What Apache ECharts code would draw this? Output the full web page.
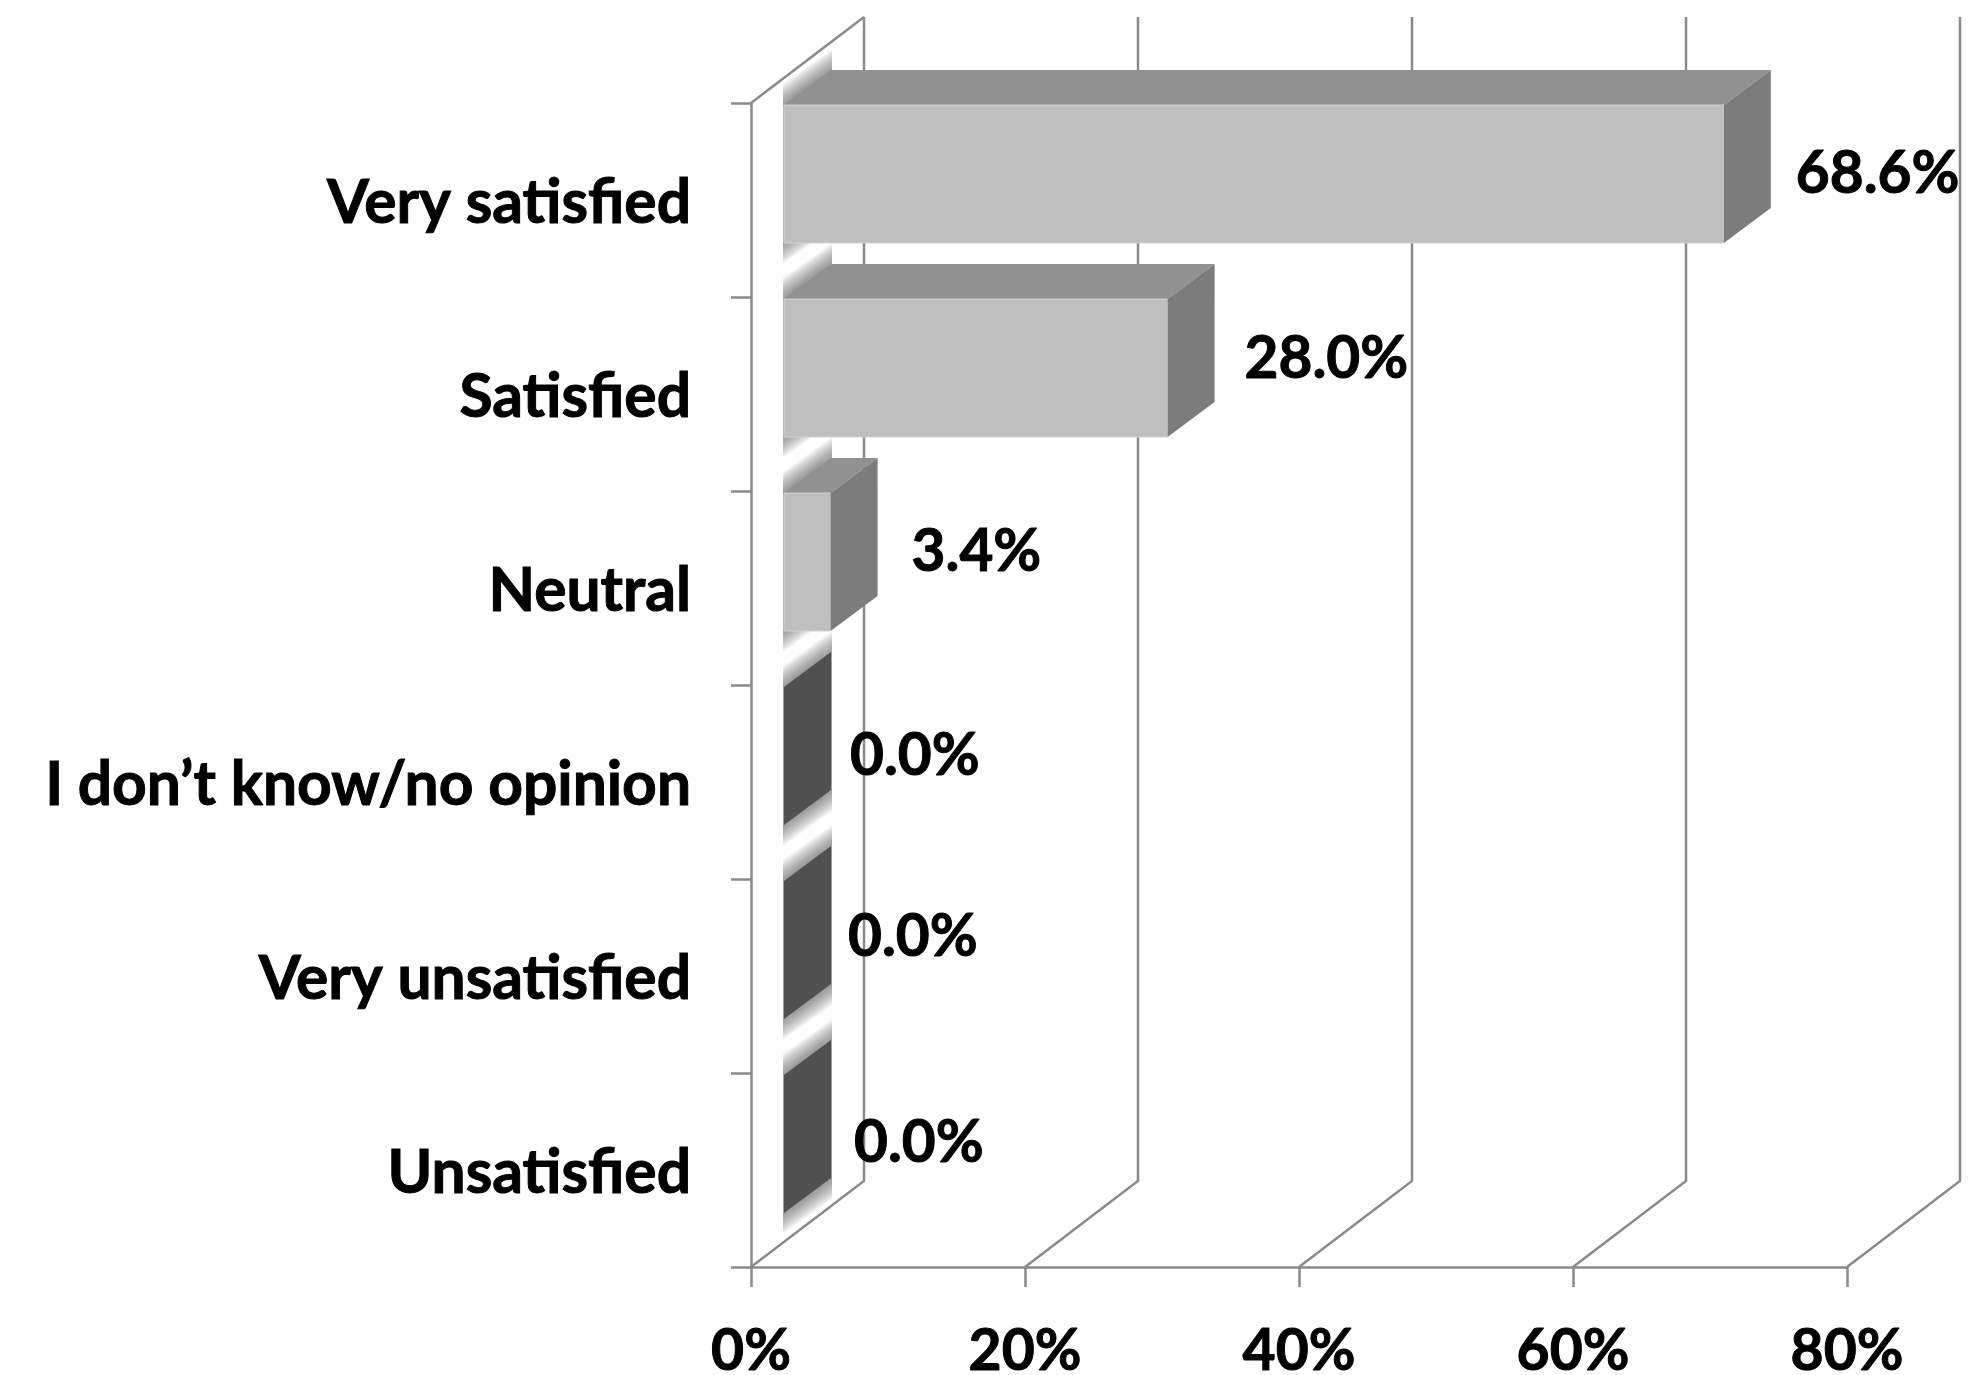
<!DOCTYPE html>
<html>
<head>
<meta charset="utf-8">
<style>html,body{margin:0;padding:0;background:#fff}#chart{width:1978px;height:1375px}</style>
<script src="https://cdn.jsdelivr.net/npm/echarts@6/dist/echarts.min.js"></script>
</head>
<body>
<div id="chart"></div>
<script>
// Survey responses, top to bottom
const categories = ['Very satisfied', 'Satisfied', 'Neutral', 'I don\u2019t know/no opinion', 'Very unsatisfied', 'Unsatisfied'];
const shares = [68.6, 28.0, 3.4, 0.0, 0.0, 0.0];
const axisTicks = [0, 20, 40, 60, 80];

// Oblique projection used for the pseudo-3D box
const FLOOR = { dx: 113, dy: -86 };   // front wall to back wall
const BAR = { inset: 33, dx: 47, dy: -35, top: -95, bottom: 43 };
// Hand-placed value labels: gap after the bar, vertical shift from the band centre
const labelGap = [25, 30, 34, 19, 17, 23];
const labelLift = [-26, -35, -36, -26, -39, -27];

const COLORS = { axis: '#8a8a8a', front: '#bfbfbf', top: '#919191', side: '#7c7c7c', empty: '#505050', halo: 'rgba(120,120,120,0.07)' };
const LINE = 2.5;
const FONT = 'Lato';
const INK = { textBorderColor: '#000', textBorderWidth: 1 };

const poly = (points, fill, extra) => ({
  type: 'polygon',
  shape: { points },
  style: Object.assign({ fill }, extra || {})
});

function renderBox(params, api) {
  const x = api.coord([api.value(0), 0])[0];
  const sys = params.coordSys;
  const bottom = sys.y + sys.height;
  const children = [{
    type: 'polyline',
    shape: { points: [[x, bottom], [x + FLOOR.dx, bottom + FLOOR.dy], [x + FLOOR.dx, sys.y + FLOOR.dy]] },
    style: { stroke: COLORS.axis, lineWidth: LINE, fill: null }
  }];
  if (params.dataIndex === 0) {
    children.push({
      type: 'line',
      shape: { x1: x, y1: sys.y, x2: x + FLOOR.dx, y2: sys.y + FLOOR.dy },
      style: { stroke: COLORS.axis, lineWidth: LINE }
    });
  }
  return { type: 'group', children };
}

function renderBar(params, api) {
  const i = params.dataIndex;
  const v = api.value(0);
  const centre = api.coord([0, api.value(1)]);
  const x0 = centre[0] + BAR.inset;
  const x1 = api.coord([v, api.value(1)])[0] + BAR.inset;
  const y0 = centre[1] + BAR.top;
  const y1 = centre[1] + BAR.bottom;
  const children = [];

  // Soft shadow thrown on the side wall, stronger above and below the bar
  for (let e = 0; e <= 22; e += 1.5) {
    children.push(poly([
      [x0 - 1, y0 - e], [x0 + BAR.dx + 1, y0 + BAR.dy - e],
      [x0 + BAR.dx + 1, y1 + BAR.dy + e], [x0 - 1, y1 + e]
    ], COLORS.halo, { shadowBlur: 7, shadowColor: COLORS.halo }));
  }

  if (v > 0) {
    children.push(poly([[x0, y0], [x1, y0], [x1 + BAR.dx, y0 + BAR.dy], [x0 + BAR.dx, y0 + BAR.dy]], COLORS.top));
    children.push(poly([[x0, y0], [x1, y0], [x1, y1], [x0, y1]], COLORS.front, { stroke: '#d2d2d2', lineWidth: 1 }));
  }
  children.push(poly(
    [[x1, y0], [x1 + BAR.dx, y0 + BAR.dy], [x1 + BAR.dx, y1 + BAR.dy], [x1, y1]],
    v > 0 ? COLORS.side : COLORS.empty
  ));
  children.push({
    type: 'text',
    z2: 10,
    style: {
      x: x1 + BAR.dx + labelGap[i],
      y: centre[1] + labelLift[i],
      text: v.toFixed(1) + '%',
      fill: '#000',
      stroke: '#000',
      lineWidth: 1,
      font: 'bold 58.5px ' + FONT,
      align: 'left',
      verticalAlign: 'middle'
    }
  });
  return { type: 'group', children };
}

const chart = echarts.init(document.getElementById('chart'), null, { renderer: 'canvas' });
chart.setOption({
  animation: false,
  backgroundColor: '#fff',
  grid: { left: 751, top: 103, width: 1096, height: 1164, outerBoundsMode: 'none' },
  xAxis: {
    type: 'value', min: 0, max: 80, interval: 20,
    axisLine: { show: true, lineStyle: { color: COLORS.axis, width: LINE } },
    axisTick: { show: true, length: 20, lineStyle: { color: COLORS.axis, width: LINE } },
    splitLine: { show: false },
    axisLabel: Object.assign({
      formatter: v => axisTicks.includes(v) ? v + '%' : '',
      margin: 56, color: '#000', fontFamily: FONT, fontWeight: 'bold', fontSize: 57
    }, INK)
  },
  yAxis: {
    type: 'category', inverse: true, data: categories,
    axisLine: { show: true, lineStyle: { color: COLORS.axis, width: LINE } },
    axisTick: { show: true, length: 20, lineStyle: { color: COLORS.axis, width: LINE } },
    splitLine: { show: false },
    axisLabel: Object.assign({
      margin: 60, verticalAlign: 'top', lineHeight: 7,
      color: '#000', fontFamily: FONT, fontWeight: 'bold', fontSize: 60.5
    }, INK)
  },
  series: [
    { type: 'custom', coordinateSystem: 'cartesian2d', z: 1, renderItem: renderBox, silent: true,
      encode: { x: 0 }, data: axisTicks.map(t => [t]) },
    { type: 'custom', coordinateSystem: 'cartesian2d', z: 2, renderItem: renderBar, silent: true,
      encode: { x: 0, y: 1 }, data: shares.map((s, i) => [s, i]) }
  ]
});
</script>
</body>
</html>
